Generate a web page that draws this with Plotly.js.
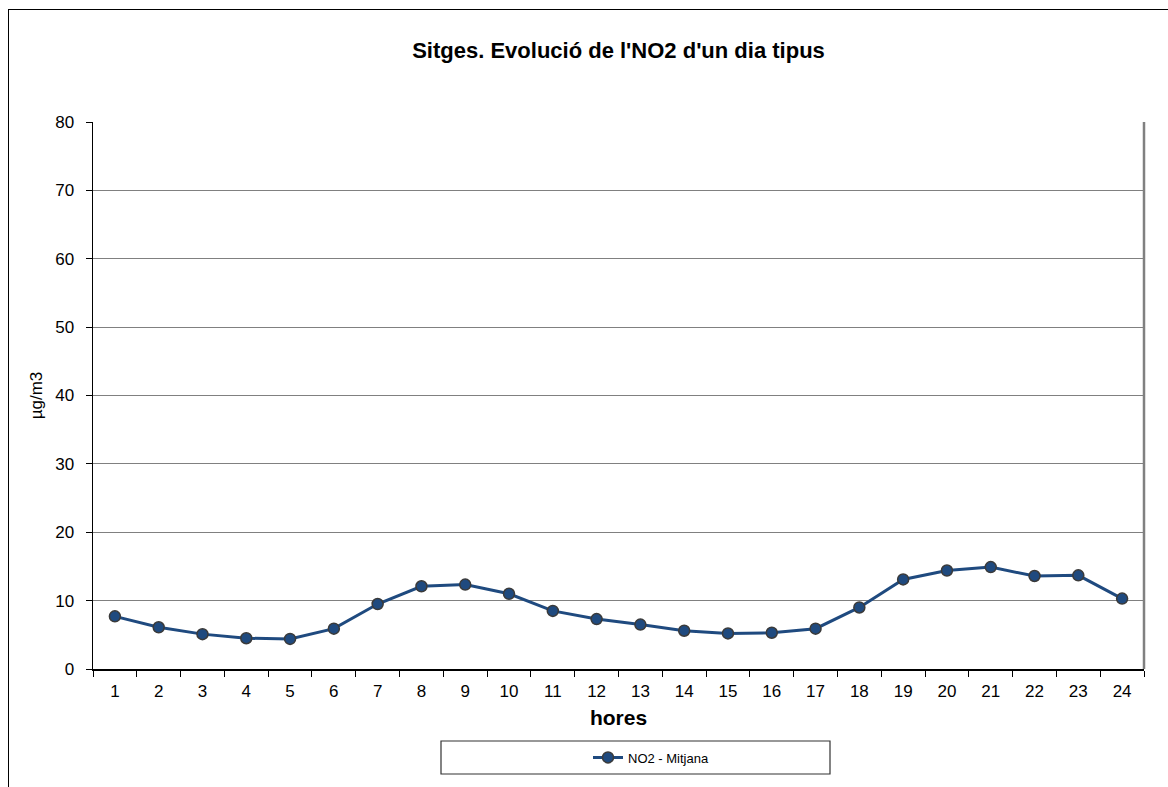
<!DOCTYPE html>
<html>
<head>
<meta charset="utf-8">
<script src="https://cdn.plot.ly/plotly-3.0.1.min.js"></script>
<style>
html,body{margin:0;padding:0;background:#fff;}
#frame{position:absolute;left:8px;top:9px;width:1200px;height:800px;border-left:1.5px solid #000;border-top:1.5px solid #000;pointer-events:none;z-index:5;}
#chart{position:absolute;left:0;top:0;width:1168px;height:787px;}
</style>
</head>
<body>
<div id="chart"></div>
<div id="frame"></div>
<script>
const hours = ["1","2","3","4","5","6","7","8","9","10","11","12","13","14","15","16","17","18","19","20","21","22","23","24"];
const no2Mitjana = [7.7,6.1,5.1,4.5,4.4,5.9,9.5,12.1,12.35,11.0,8.5,7.3,6.5,5.6,5.2,5.3,5.9,9.0,13.1,14.4,14.9,13.6,13.7,10.3];
const yTicks = [0,10,20,30,40,50,60,70,80];

const font = "Liberation Sans, Arial, sans-serif";

const trace = {
  x: hours,
  y: no2Mitjana,
  type: "scatter",
  mode: "lines+markers",
  name: "NO2 - Mitjana",
  line: {color: "#1F4A7F", width: 3},
  marker: {color: "#1F4A7F", size: 11, line: {color: "#3a3a3a", width: 1.5}}
};

const layout = {
  width: 1168,
  height: 787,
  margin: {l: 93, r: 24, t: 122, b: 118},
  paper_bgcolor: "#fff",
  plot_bgcolor: "#fff",
  font: {family: font, color: "#000"},
  title: {
    text: "<b>Sitges. Evolució de l'NO2 d'un dia tipus</b>",
    font: {size: 22, family: font, color: "#000"},
    x: 0.5, xref: "paper", xanchor: "center",
    y: 1 - 50/787, yref: "container", yanchor: "middle"
  },
  xaxis: {
    type: "category",
    range: [-0.5, 23.5],
    tickson: "boundaries",
    ticks: "outside",
    ticklen: 6,
    tickcolor: "#000",
    showline: true,
    linecolor: "#000",
    linewidth: 1.5,
    showgrid: false,
    zeroline: false,
    ticklabelstandoff: 6,
    tickfont: {size: 17, family: font, color: "#000"},
    title: {text: "<b>hores</b>", font: {size: 21, family: font, color: "#000"}, standoff: 10}
  },
  yaxis: {
    range: [0, 80],
    tickvals: yTicks,
    ticktext: yTicks.map(String),
    ticks: "outside",
    ticklen: 6,
    tickcolor: "#000",
    showline: true,
    linecolor: "#000",
    linewidth: 1.5,
    showgrid: true,
    gridcolor: "#808080",
    gridwidth: 1.2,
    zeroline: false,
    ticklabelstandoff: 8,
    tickfont: {size: 17, family: font, color: "#000"},
    title: {text: "µg/m3", font: {size: 17, family: font, color: "#000"}, standoff: 8}
  },
  showlegend: true,
  legend: {
    orientation: "h",
    x: (651 - 93) / 1051,
    xanchor: "center",
    y: (669 - 757.5) / 547,
    yanchor: "middle",
    bgcolor: "rgba(0,0,0,0)",
    font: {size: 13, family: font, color: "#000"}
  },
  shapes: [
    {type: "line", xref: "paper", yref: "paper", x0: 1, x1: 1, y0: 0, y1: 1,
     line: {color: "#808080", width: 2.5}},
    {type: "rect", xref: "paper", yref: "paper",
     x0: (441 - 93) / 1051, x1: (830 - 93) / 1051,
     y0: (669 - 774) / 547, y1: (669 - 741) / 547,
     line: {color: "#333", width: 1.2}, fillcolor: "rgba(0,0,0,0)"}
  ]
};

Plotly.newPlot("chart", [trace], layout, {displayModeBar: false, staticPlot: true});
</script>
</body>
</html>
